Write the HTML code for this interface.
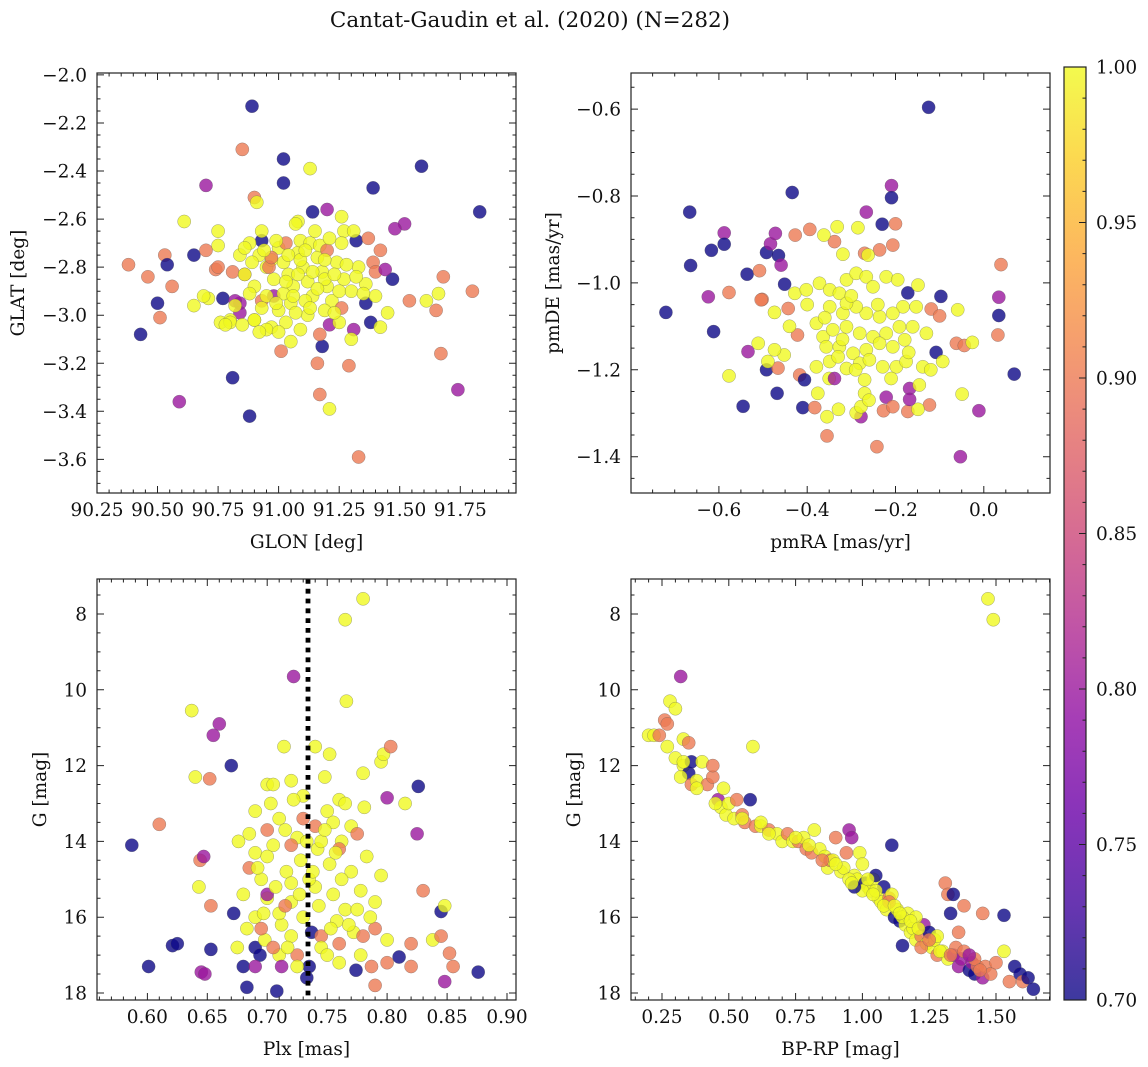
<!DOCTYPE html>
<html><head><meta charset="utf-8">
<style>
html,body{margin:0;padding:0;background:#fff;}
svg{display:block;font-family:"DejaVu Serif","Liberation Serif",serif;}
</style></head>
<body>
<svg id="fig" width="1148" height="1067" viewBox="0 0 1148 1067" xmlns="http://www.w3.org/2000/svg">
<text x="530" y="27" text-anchor="middle" font-size="21.5" fill="#111">Cantat-Gaudin et al. (2020) (N=282)</text>
</svg>
<script>
// ---------- Panel 1 data: GLON / GLAT ----------
const p1Lon = [90.38,90.43,90.46,90.50,90.51,90.53,90.54,90.56,90.59,90.61,
90.65,90.70,90.70,90.71,90.74,90.75,90.75,90.81,90.81,90.84,
90.85,90.89,90.88,90.90,90.91,90.93,91.02,91.02,91.13,91.14,
91.20,91.26,91.08,91.39,91.32,91.29,91.33,91.21,91.16,91.17,
91.36,91.38,91.42,91.45,91.47,91.37,91.52,91.48,91.61,91.66,
91.68,91.65,91.80,91.67,91.54,91.74,91.83,91.59,91.31,91.18,
91.21,91.17,91.01,90.77,90.82,90.84,90.75,90.86,91.39,91.42,
91.40,91.44,90.93,90.98,91.27,91.30,91.05,90.65,90.69,90.76,
90.88,90.92,90.95,90.98,91.00,91.02,91.04,91.06,91.08,91.10,
91.12,91.14,91.16,91.18,91.20,91.22,91.05,91.00,90.95,90.90,
90.86,90.82,90.80,90.90,90.97,91.03,91.09,91.13,91.17,91.24,
91.27,91.30,91.33,91.26,91.31,91.07,91.15,90.93,90.84,91.19,
91.12,91.09,91.25,91.36,91.40,91.02,91.11,90.97,91.08,91.19,
90.80,90.85,90.90,90.95,91.00,90.92,90.96,91.03,91.20,91.26,90.97,
90.89,90.94,90.99,91.04,91.09,91.14,91.19,91.23,91.28,91.32,
91.35,91.25,91.16,91.06,90.99,90.93,90.88,90.86,91.11,91.21,
91.03,91.13,91.23,90.78,91.07];
const p1Lat = [-2.79,-3.08,-2.84,-2.95,-3.01,-2.75,-2.79,-2.88,-3.36,-2.61,
-2.75,-2.73,-2.46,-2.93,-2.81,-2.65,-2.71,-3.26,-2.82,-2.95,
-2.31,-2.13,-3.42,-2.51,-2.53,-2.69,-2.35,-2.45,-2.39,-2.57,
-2.56,-2.59,-2.61,-2.47,-2.69,-3.21,-3.59,-3.39,-3.20,-3.33,
-2.95,-3.03,-3.05,-2.99,-2.85,-2.68,-2.62,-2.64,-2.94,-2.91,
-2.84,-2.98,-2.90,-3.16,-2.94,-3.31,-2.57,-2.38,-3.06,-3.13,
-3.04,-3.08,-3.15,-2.93,-2.94,-2.99,-2.80,-2.83,-2.78,-2.73,
-2.82,-2.81,-2.94,-2.92,-2.65,-3.10,-3.11,-2.96,-2.92,-3.03,
-2.70,-2.75,-2.80,-2.85,-2.72,-2.78,-2.83,-2.88,-2.74,-2.80,
-2.86,-2.92,-2.76,-2.82,-2.88,-2.94,-2.95,-2.98,-2.92,-2.88,
-2.83,-2.96,-3.02,-3.02,-3.05,-3.03,-2.69,-2.70,-2.71,-2.78,
-2.85,-2.90,-2.80,-2.70,-2.65,-2.62,-2.65,-2.65,-2.75,-2.98,
-3.00,-3.06,-3.03,-2.87,-2.92,-2.91,-2.94,-2.77,-2.83,-2.85,
-3.03,-3.04,-3.02,-3.06,-3.07,-3.07,-2.80,-2.70,-2.73,-2.97,-2.76,
-2.78,-2.73,-2.69,-2.75,-2.77,-2.82,-2.77,-2.83,-2.79,-2.84,
-2.91,-2.90,-2.89,-2.92,-2.95,-2.97,-2.91,-2.72,-2.73,-2.68,
-2.86,-2.97,-2.99,-3.04,-2.99];
const p1Prob = [.9,.7,.9,.7,.9,.9,.7,.9,.8,1,
.7,.9,.8,1,.9,1,1,.7,.9,.8,
.9,.7,.7,.9,1,.7,.7,.7,1,.7,
.8,1,1,.7,.7,.9,.9,1,.9,.9,
.7,.7,1,1,.7,.9,.8,.8,1,1,
.9,.9,.9,.9,.9,.8,.7,.7,.8,.7,
.8,.9,.9,.7,.8,.8,.9,.9,.9,.9,
.9,.8,.9,.8,1,1,1,1,1,1,
1,1,1,1,1,1,1,1,1,1,
1,1,1,1,1,1,1,1,1,1,
1,1,1,1,1,1,1,1,1,1,
1,1,1,1,1,1,1,1,1,1,
1,1,1,1,1,1,1,1,1,1,
1,1,1,1,1,1,.9,.9,.9,.9,.9,
1,1,1,1,1,1,1,1,1,1,
1,1,1,1,1,1,1,1,1,1,
1,1,1,1,1];

// ---------- Panel 2 data: pmRA / pmDE ----------
const p2PmRA = [-0.72,-0.666,-0.664,-0.617,-0.612,-0.624,-0.588,-0.588,-0.577,-0.577,
-0.534,-0.545,-0.536,-0.508,-0.502,-0.492,-0.492,-0.483,-0.472,-0.465,
-0.459,-0.451,-0.468,-0.434,-0.427,-0.394,-0.41,-0.383,-0.355,-0.355,
-0.332,-0.285,-0.266,-0.23,-0.2,-0.206,-0.209,-0.209,-0.125,0.039,
0.034,0.034,0.032,0.069,-0.011,-0.053,-0.049,-0.242,-0.172,-0.123,
-0.149,-0.168,-0.168,-0.221,-0.227,-0.206,-0.278,-0.289,-0.329,-0.097,
-0.108,-0.119,-0.1,-0.062,-0.044,-0.026,-0.059,-0.093,-0.146,-0.172,
-0.149,-0.236,-0.27,-0.262,-0.338,-0.362,-0.319,-0.422,-0.417,-0.406,
-0.35,-0.338,-0.466,-0.452,-0.474,-0.511,-0.489,-0.443,-0.474,-0.504,
-0.428,-0.402,-0.372,-0.349,-0.327,-0.311,-0.289,-0.266,-0.251,-0.221,
-0.195,-0.183,-0.153,-0.206,-0.236,-0.266,-0.289,-0.319,-0.349,-0.379,
-0.364,-0.342,-0.311,-0.281,-0.251,-0.221,-0.191,-0.161,-0.130,-0.179,
-0.206,-0.236,-0.266,-0.296,-0.327,-0.357,-0.379,-0.349,-0.311,-0.281,
-0.259,-0.229,-0.198,-0.176,-0.138,-0.270,-0.270,-0.278,-0.376,-0.311,
-0.40,-0.32,-0.24,-0.17,-0.29,-0.36,-0.21,-0.26,-0.44,-0.12,-0.33,-0.30];
const p2PmDE = [-1.068,-0.837,-0.96,-0.925,-1.112,-1.032,-0.885,-0.911,-1.022,-1.214,
-1.158,-1.284,-0.98,-0.972,-1.038,-0.93,-1.20,-0.91,-0.886,-0.937,
-0.959,-1.003,-1.254,-0.792,-0.89,-0.877,-1.287,-1.287,-1.352,-1.308,
-0.871,-0.873,-0.837,-0.865,-0.864,-0.913,-0.776,-0.804,-0.596,-0.958,
-1.033,-1.075,-1.12,-1.21,-1.294,-1.40,-1.256,-1.377,-1.296,-1.281,
-1.291,-1.243,-1.268,-1.263,-1.294,-1.285,-1.308,-1.299,-1.291,-1.031,
-1.16,-1.06,-1.076,-1.139,-1.144,-1.137,-1.062,-1.181,-1.235,-1.023,
-1.005,-0.924,-0.932,-0.936,-0.905,-0.89,-0.934,-1.12,-1.212,-1.223,
-1.22,-1.22,-1.196,-1.166,-1.154,-1.139,-1.181,-1.059,-1.068,-1.039,
-1.024,-1.016,-1.001,-1.016,-1.024,-0.993,-0.978,-0.986,-1.009,-0.986,
-0.993,-1.055,-1.055,-1.070,-1.078,-1.070,-1.055,-1.070,-1.055,-1.093,
-1.124,-1.108,-1.101,-1.116,-1.124,-1.116,-1.101,-1.101,-1.116,-1.131,
-1.147,-1.139,-1.154,-1.162,-1.147,-1.147,-1.193,-1.181,-1.197,-1.185,
-1.177,-1.193,-1.193,-1.181,-1.193,-1.223,-1.254,-1.285,-1.254,-1.047,
-1.05,-1.13,-1.05,-1.16,-1.20,-1.08,-1.22,-1.27,-1.10,-1.20,-1.17,-1.03];
const p2Prob = [.7,.7,.7,.7,.7,.8,.8,.7,.9,1,
.8,.7,.7,.9,.9,.7,.7,.8,.8,.7,
.8,.7,.7,.7,.9,.9,.7,.9,.9,1,
1,1,.8,.7,.9,.9,.8,.7,.7,.9,
.8,.7,.9,.7,.8,.8,1,.9,.9,.9,
1,.8,.8,.8,.9,.9,.8,1,1,.7,
.7,.9,.9,.9,.9,1,1,1,1,.7,
1,.9,.9,1,.9,1,1,.9,.9,.7,
1,.8,.9,1,1,1,1,.9,1,.9,
1,1,1,1,1,1,1,1,1,1,
1,1,1,1,1,1,1,1,1,1,
1,1,1,1,1,1,1,1,1,1,
1,1,1,1,1,1,1,1,1,1,
1,1,1,1,1,1,1,1,1,1,
1,1,1,1,1,1,1,1,1,1,1,1];

// ---------- Panel 3 data: Plx / G ----------
const p3Plx = [0.587,0.601,0.610,0.621,0.625,0.637,0.640,0.643,0.644,0.647,
0.645,0.648,0.652,0.653,0.653,0.655,0.660,0.670,0.672,0.676,
0.680,0.683,0.690,0.694,0.700,0.708,0.714,0.722,0.720,0.725,
0.733,0.735,0.737,0.740,0.745,0.748,0.752,0.765,0.780,0.766,
0.770,0.774,0.780,0.787,0.790,0.795,0.797,0.800,0.803,0.810,
0.815,0.820,0.825,0.826,0.830,0.838,0.845,0.848,0.852,0.855,
0.845,0.848,0.876,0.800,0.820,0.790,
0.685,0.690,0.695,0.700,0.705,0.710,0.712,0.716,0.720,0.725,
0.728,0.730,0.740,0.742,0.745,0.750,0.752,0.755,0.758,0.760,
0.762,0.765,0.770,0.772,0.778,0.783,0.786,0.790,0.795,0.800,
0.690,0.698,0.710,0.720,0.735,0.750,0.760,0.680,0.675,0.705,
0.730,0.755,0.745,0.725,0.690,0.700,0.765,0.740,0.710,0.720,
0.685,0.700,0.715,0.730,0.695,0.705,0.712,0.690,0.760,0.775,0.760,0.780,0.720,0.700,
0.692,0.703,0.715,0.722,0.727,0.733,0.738,0.743,0.748,0.753,
0.757,0.762,0.768,0.775,0.781,0.707,0.717,0.697,0.683,0.778];
const p3G = [14.1,17.3,13.55,16.75,16.7,10.55,12.3,15.2,14.5,14.4,
17.45,17.5,12.35,15.7,16.85,11.2,10.9,12.0,15.9,14.0,
17.3,17.85,16.8,17.0,12.5,17.95,11.5,9.65,12.4,17.0,
17.6,17.3,16.4,13.6,16.5,12.3,11.7,8.15,7.6,10.3,
13.6,17.4,12.2,17.3,17.8,11.9,11.7,12.85,11.5,17.05,
13.0,16.7,13.8,12.55,15.3,16.6,16.5,17.7,16.95,17.3,
15.85,15.7,17.45,17.2,17.3,16.3,
13.8,14.3,15.0,15.5,14.1,13.4,16.2,14.8,15.6,13.9,
14.5,16.0,15.2,14.2,16.8,13.2,14.6,15.4,16.1,12.9,
14.0,15.8,14.8,16.4,15.3,14.4,16.0,15.6,14.9,16.6,
16.0,16.6,17.0,16.5,15.0,17.0,17.2,15.4,16.8,12.5,
12.8,13.5,14.0,17.3,13.2,14.4,13.0,11.5,15.9,15.1,
14.7,13.7,15.7,13.4,16.3,16.8,17.3,17.3,16.7,13.8,14.2,16.5,14.1,15.4,
14.7,13.0,13.7,12.9,15.4,14.0,14.8,15.7,13.7,16.3,
14.3,15.0,16.2,15.8,13.1,15.2,16.8,15.9,16.3,17.0];
const p3Prob = [.7,.7,.9,.7,.7,1,1,1,.9,.8,
.8,.8,.9,.9,.7,.8,.8,.7,.7,1,
.7,.7,.7,.7,1,.7,1,.8,1,.9,
.7,.7,.7,.9,.9,1,1,1,1,1,
1,.7,1,.9,.9,1,1,.8,.9,.7,
1,.9,.8,.7,.9,1,.9,.8,.9,.9,
.7,1,.7,.9,.9,.9,
1,1,1,1,1,1,1,1,1,1,
1,1,1,1,1,1,1,1,1,1,
1,1,1,1,1,1,1,1,1,1,
1,1,1,1,1,1,1,1,1,1,
1,1,1,1,1,1,1,1,1,1,
.9,.9,.9,.9,.9,.9,.8,.8,.9,.9,.9,.9,.9,.8,
1,1,1,1,1,1,1,1,1,1,
1,1,1,1,1,1,1,1,1,1];

// ---------- Panel 4 data: BP-RP / G ----------
const p4BpRp = [0.20,0.22,0.24,0.26,0.27,0.28,0.30,0.32,0.27,0.30,
0.33,0.35,0.33,0.35,0.36,0.32,0.36,0.38,0.40,0.42,
0.44,0.44,0.46,0.47,0.48,0.49,0.50,0.52,0.53,0.55,
0.56,0.58,0.59,0.60,0.62,0.65,0.68,0.70,0.72,0.74,
0.76,0.78,0.79,0.81,0.82,0.84,0.86,0.87,0.88,0.89,
0.90,0.92,0.93,0.94,0.95,0.96,0.97,0.98,0.99,1.00,
1.01,1.02,1.03,1.04,1.05,1.06,1.07,1.08,1.09,1.10,
1.11,1.11,1.12,1.13,1.14,1.15,1.16,1.17,1.18,1.19,
1.20,1.22,1.23,1.24,1.25,1.26,1.27,1.28,1.30,1.31,
1.32,1.32,1.33,1.34,1.35,1.36,1.37,1.38,1.38,1.40,
1.41,1.42,1.43,1.45,1.46,1.47,1.49,1.48,1.50,1.53,
1.53,1.55,1.57,1.59,1.60,1.62,1.64,1.45,1.34,1.15,
1.05,0.95,1.00,0.85,0.65,0.75,1.20,1.28,1.36,1.22,1.42,1.10,0.97,
0.38,0.55,0.62,0.80,0.90,0.96,1.02,1.04,1.08,1.12,
1.14,1.18,1.21,1.25,1.29,1.33,1.40,1.44,0.33,0.45];
const p4G = [11.2,11.2,11.2,10.8,10.9,10.3,10.5,9.65,11.5,11.8,
11.3,11.4,12.0,12.2,11.9,12.3,12.5,12.4,11.9,12.5,
12.3,12.0,12.9,13.1,12.6,13.3,13.0,13.4,12.9,13.3,
13.5,12.9,11.5,13.6,13.6,13.7,13.8,14.0,13.8,14.0,
14.0,13.9,14.2,14.3,13.7,14.2,14.4,14.7,14.5,14.5,
13.9,14.8,14.7,14.3,13.7,13.9,14.9,15.0,14.3,14.6,
15.1,15.2,15.3,15.0,14.9,15.5,15.6,15.2,15.8,15.5,
14.1,15.4,16.0,15.8,16.1,16.75,16.2,15.9,16.4,16.3,
16.6,16.5,16.2,16.7,16.4,16.8,16.6,17.0,16.9,15.1,
15.4,17.1,15.9,17.0,16.8,17.3,17.1,15.7,16.9,17.4,
17.2,17.5,17.3,17.6,17.3,7.6,8.15,17.5,17.2,15.95,
16.9,17.7,17.3,17.5,17.7,17.6,17.9,15.9,15.4,16.0,
15.3,15.0,15.3,14.5,13.8,13.9,16.0,16.5,16.4,16.8,17.1,15.6,15.2,
12.6,13.4,13.5,14.1,14.6,15.1,15.0,15.4,15.7,15.7,
15.9,16.1,16.3,16.6,16.9,17.0,17.0,17.4,11.9,13.0];
const p4Prob = [1,1,.9,.9,.9,1,1,.8,1,1,
1,.9,1,.7,.7,1,.9,1,1,.9,
.9,.9,.8,1,1,1,1,1,.9,.9,
.9,.7,1,.9,1,.9,1,1,.9,1,
.9,1,.9,.9,1,1,1,1,.9,1,
.9,1,1,.9,.8,.8,1,1,1,1,
.7,1,1,1,.7,1,1,.7,1,.9,
.7,1,.7,1,.7,.7,1,1,1,1,
1,.9,.8,1,.7,1,1,.9,1,.9,
.9,1,.7,.8,.9,.8,.8,.9,.9,.7,
.8,.7,.9,.8,.9,1,1,.9,.9,.7,
1,.9,.7,.7,.9,.7,.7,.9,.7,1,
1,1,1,.9,1,1,1,1,.9,.9,.9,.9,.7,
1,1,1,1,1,1,1,1,1,1,
1,1,1,.9,1,.9,.8,.9,1,1];

// colour scale
const cbTicks = [0.70,0.75,0.80,0.85,0.90,0.95,1.00];

const NS = 'http://www.w3.org/2000/svg';
const svg = document.getElementById('fig');
const STOPS = ['#0d0887','#41049d','#6a00a8','#8f0da4','#b12a90','#cc4778','#e16462','#f2844b','#fca636','#fcce25','#f0f921'];
function hex2rgb(h){return [parseInt(h.substr(1,2),16),parseInt(h.substr(3,2),16),parseInt(h.substr(5,2),16)];}
function plasma(t){
  t=Math.max(0,Math.min(1,t));
  const f=t*10, i=Math.min(9,Math.floor(f)), u=f-i;
  const a=hex2rgb(STOPS[i]), b=hex2rgb(STOPS[i+1]);
  return 'rgb('+a.map((v,k)=>Math.round(v+(b[k]-v)*u)).join(',')+')';
}
function colorOf(p){return plasma((p-0.70)/0.30);}
function el(tag, parent){const e=document.createElementNS(NS,tag);parent.appendChild(e);return e;}
function fmt(v,d){return v.toFixed(d).replace('-','\u2212');}
const FS = 18.5;

function drawPanel(c, xs, ys, ps, name){
  const g = el('g', svg);
  
  
  const sx = v => c.L + (v - c.xmin) / (c.xmax - c.xmin) * (c.R - c.L);
  const sy = v => c.yinv ? c.T + (v - c.ymin) / (c.ymax - c.ymin) * (c.B - c.T)
                         : c.B - (v - c.ymin) / (c.ymax - c.ymin) * (c.B - c.T);
  const cp = el('clipPath', g); cp.setAttribute('id', name + '-clip');
  const cr = el('rect', cp); cr.setAttribute('x', c.L); cr.setAttribute('y', c.T); cr.setAttribute('width', c.R-c.L); cr.setAttribute('height', c.B-c.T);
  const pts = el('g', g);
  pts.setAttribute('clip-path', 'url(#' + name + '-clip)');
  
  
  const n = Math.min(xs.length, ys.length, ps.length);
  for (let i = 0; i < n; i++) {
    const d = el('circle', pts);
    
    
    d.setAttribute('cx', sx(xs[i]).toFixed(1));
    d.setAttribute('cy', sy(ys[i]).toFixed(1));
    d.setAttribute('r', 6.6);
    d.setAttribute('fill', colorOf(ps[i]));
    d.setAttribute('fill-opacity', 0.8);
    d.setAttribute('stroke', 'rgba(90,90,90,0.55)');
    d.setAttribute('stroke-width', 0.5);
  }
  if (c.vline !== undefined) {
    const vl = el('line', pts);
    
    
    vl.setAttribute('x1', sx(c.vline)); vl.setAttribute('x2', sx(c.vline));
    vl.setAttribute('y1', c.T); vl.setAttribute('y2', c.B);
    vl.setAttribute('stroke', '#000'); vl.setAttribute('stroke-width', 4.8);
    vl.setAttribute('stroke-dasharray', '4.8 5');
  }
  const fr = el('rect', g);
  
  
  fr.setAttribute('x', c.L); fr.setAttribute('y', c.T); fr.setAttribute('width', c.R-c.L); fr.setAttribute('height', c.B-c.T);
  fr.setAttribute('fill', 'none'); fr.setAttribute('stroke', '#222'); fr.setAttribute('stroke-width', 1.2);
  let path = '';
  const eps = 1e-9;
  for (let v = Math.ceil(c.xmin / c.xminor - eps) * c.xminor; v <= c.xmax + eps; v += c.xminor) {
    const x = sx(v).toFixed(1);
    path += 'M' + x + ' ' + c.B + 'v-3.5M' + x + ' ' + c.T + 'v3.5';
  }
  for (let v = Math.ceil(c.ymin / c.yminor - eps) * c.yminor; v <= c.ymax + eps; v += c.yminor) {
    const y = sy(v).toFixed(1);
    path += 'M' + c.L + ' ' + y + 'h3.5M' + c.R + ' ' + y + 'h-3.5';
  }
  c.xmaj.forEach(v => { const x = sx(v).toFixed(1); path += 'M' + x + ' ' + c.B + 'v-7M' + x + ' ' + c.T + 'v7'; });
  c.ymaj.forEach(v => { const y = sy(v).toFixed(1); path += 'M' + c.L + ' ' + y + 'h7M' + c.R + ' ' + y + 'h-7'; });
  const tp = el('path', g);
  
  
  tp.setAttribute('d', path); tp.setAttribute('stroke', '#222'); tp.setAttribute('stroke-width', 1);
  c.xmaj.forEach(v => {
    const t = el('text', g);
    
    
    t.setAttribute('x', sx(v)); t.setAttribute('y', c.B + 23);
    t.setAttribute('text-anchor', 'middle'); t.setAttribute('font-size', FS); t.setAttribute('fill', '#111');
    t.textContent = fmt(v, c.xdec);
  });
  c.ymaj.forEach(v => {
    const t = el('text', g);
    
    
    t.setAttribute('x', c.L - 10); t.setAttribute('y', sy(v) + 6.5);
    t.setAttribute('text-anchor', 'end'); t.setAttribute('font-size', FS); t.setAttribute('fill', '#111');
    t.textContent = fmt(v, c.ydec);
  });
  const xl = el('text', g);
  
  
  xl.setAttribute('x', (c.L + c.R) / 2); xl.setAttribute('y', c.B + 55);
  xl.setAttribute('text-anchor', 'middle'); xl.setAttribute('font-size', FS); xl.setAttribute('fill', '#111');
  xl.textContent = c.xlabel;
  const yl = el('text', g);
  
  
  const cy = (c.T + c.B) / 2;
  yl.setAttribute('transform', 'translate(' + c.ylx + ',' + cy + ') rotate(-90)');
  yl.setAttribute('text-anchor', 'middle'); yl.setAttribute('font-size', FS); yl.setAttribute('fill', '#111');
  yl.textContent = c.ylabel;
}
function range(a, b, s){const r=[];for(let v=a;v<=b+1e-9;v+=s)r.push(Math.round(v*1000)/1000);return r;}

drawPanel({L:97,R:516,T:73,B:493,xmin:90.25,xmax:91.98,ymin:-3.740,ymax:-1.992,
  xmaj:range(90.25,91.75,0.25),xminor:0.05,ymaj:range(-3.6,-2.0,0.2),yminor:0.05,xdec:2,ydec:1,
  xlabel:'GLON [deg]',ylabel:'GLAT [deg]',ylx:24}, p1Lon, p1Lat, p1Prob, 'panel-glon-glat');
drawPanel({L:631,R:1050,T:73,B:493,xmin:-0.799,xmax:0.150,ymin:-1.4835,ymax:-0.517,
  xmaj:range(-0.6,0.0,0.2),xminor:0.05,ymaj:range(-1.4,-0.6,0.2),yminor:0.05,xdec:1,ydec:1,
  xlabel:'pmRA [mas/yr]',ylabel:'pmDE [mas/yr]',ylx:559}, p2PmRA, p2PmDE, p2Prob, 'panel-pm');
drawPanel({L:97,R:516,T:579,B:1000,xmin:0.558,xmax:0.9075,ymin:7.077,ymax:18.185,yinv:true,vline:0.734,
  xmaj:range(0.60,0.90,0.05),xminor:0.01,ymaj:range(8,18,2),yminor:0.5,xdec:2,ydec:0,
  xlabel:'Plx [mas]',ylabel:'G [mag]',ylx:46}, p3Plx, p3G, p3Prob, 'panel-plx-g');
drawPanel({L:631,R:1050,T:579,B:1000,xmin:0.134,xmax:1.702,ymin:7.077,ymax:18.185,yinv:true,
  xmaj:range(0.25,1.50,0.25),xminor:0.05,ymaj:range(8,18,2),yminor:0.5,xdec:2,ydec:0,
  xlabel:'BP-RP [mag]',ylabel:'G [mag]',ylx:580}, p4BpRp, p4G, p4Prob, 'panel-cmd');

(function(){
  const L=1064,R=1086,T=67,B=1000,vmin=0.70,vmax=1.00;
  const sy = v => B - (v - vmin) / (vmax - vmin) * (B - T);
  const g = el('g', svg);
  
  
  const defs = el('defs', g);
  const lg = el('linearGradient', defs);
  lg.setAttribute('id', 'cbgrad'); lg.setAttribute('x1', 0); lg.setAttribute('y1', 1); lg.setAttribute('x2', 0); lg.setAttribute('y2', 0);
  for (let i = 0; i <= 20; i++) {
    const s = el('stop', lg);
    s.setAttribute('offset', i / 20); s.setAttribute('stop-color', plasma(i / 20)); s.setAttribute('stop-opacity', 0.8);
  }
  const r = el('rect', g);
  
  
  r.setAttribute('x', L); r.setAttribute('y', T); r.setAttribute('width', R-L); r.setAttribute('height', B-T);
  r.setAttribute('fill', 'url(#cbgrad)'); r.setAttribute('stroke', '#222'); r.setAttribute('stroke-width', 1.2);
  let path = '';
  for (let v = vmin; v <= vmax + 1e-9; v += 0.01) { path += 'M' + R + ' ' + sy(v).toFixed(1) + 'h-3.5'; }
  cbTicks.forEach(v => { path += 'M' + R + ' ' + sy(v).toFixed(1) + 'h-7'; });
  const tp = el('path', g);
  
  
  tp.setAttribute('d', path); tp.setAttribute('stroke', '#222'); tp.setAttribute('stroke-width', 1);
  cbTicks.forEach(v => {
    const t = el('text', g);
    
    
    t.setAttribute('x', R + 10); t.setAttribute('y', sy(v) + 6.5);
    t.setAttribute('font-size', FS); t.setAttribute('fill', '#111');
    t.textContent = v.toFixed(2);
  });
})();
</script>
</body></html>
